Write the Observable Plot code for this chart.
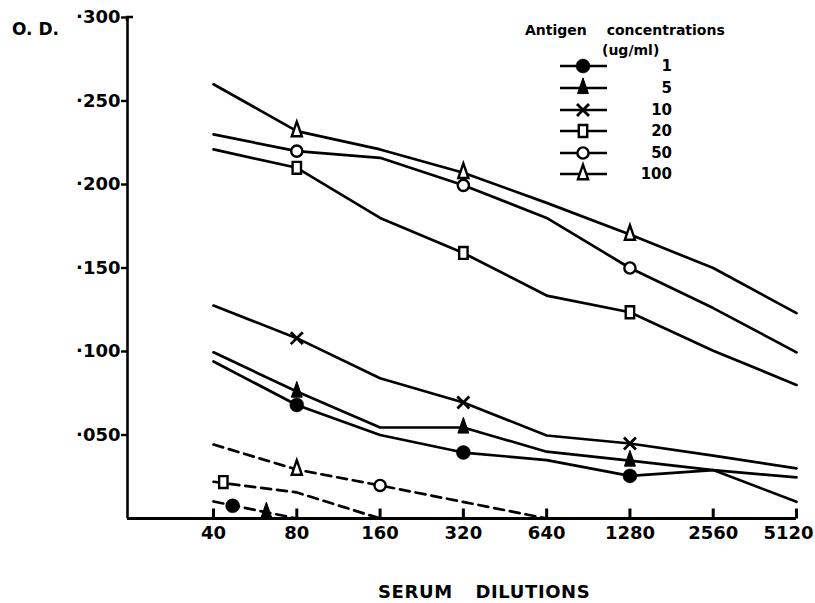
<!DOCTYPE html>
<html><head><meta charset="utf-8">
<script src="https://cdn.jsdelivr.net/npm/d3@7"></script>
<script src="https://cdn.jsdelivr.net/npm/@observablehq/plot@0.6"></script>
<style>
body{margin:0;background:#fff;}
#wrap{position:relative;width:815px;height:603px;font-family:"DejaVu Sans",sans-serif;font-weight:bold;color:#000;}
.t{position:absolute;white-space:pre;line-height:1;font-weight:bold;}
#legend{position:absolute;left:0;top:0;}
</style></head><body>
<div id="wrap"></div>
<script>
// ---------- data ----------
const dilutions = [40, 80, 160, 320, 640, 1280, 2560, 5120];
const xTickLabels = ["40", "80", "160", "320", "640", "1280", "2560", "5120"];
const concentrations = ["1", "5", "10", "20", "50", "100"];
const od_1   = [0.094, 0.068, 0.050, 0.0395, 0.035, 0.0255, 0.029, 0.010];
const od_5   = [0.0995, 0.076, 0.0545, 0.0545, 0.040, 0.0347, 0.029, 0.0246];
const od_10  = [0.1275, 0.108, 0.084, 0.0695, 0.0497, 0.0449, 0.0377, 0.030];
const od_20  = [0.221, 0.210, 0.180, 0.159, 0.1335, 0.1235, 0.1005, 0.080];
const od_50  = [0.230, 0.220, 0.216, 0.1995, 0.180, 0.150, 0.126, 0.0995];
const od_100 = [0.260, 0.232, 0.221, 0.207, 0.189, 0.170, 0.150, 0.123];
const markedDilutions = [80, 320, 1280];

// dashed curves
const dashA_x = [40, 80, 160, 640];
const dashA_y = [0.0443, 0.0293, 0.0198, 0];
const dashB_x = [40, 80, 160];
const dashB_y = [0.022, 0.0156, 0];
const dashC_x = [40, 80];
const dashC_y = [0.0102, 0];
const dashMark_x = [80, 160, 43.4, 46.9, 62.1];
const dashMark_y = [0.0293, 0.0198, 0.0218, 0.0076, 0.0037];
const dashMark_conc = ["100", "50", "20", "1", "5"];

const yTicks = [0.05, 0.1, 0.15, 0.2, 0.25, 0.3];
const yTickLabels = ["·050", "·100", "·150", "·200", "·250", "·300"];

// ---------- build tables ----------
const seriesValues = {"1": od_1, "5": od_5, "10": od_10, "20": od_20, "50": od_50, "100": od_100};
const rows = concentrations.flatMap(c => dilutions.map((x, i) => ({conc: c, x, y: seriesValues[c][i]})));
const markRows = rows.filter(r => markedDilutions.includes(r.x));
const dashRows = [
  ...dashA_x.map((x, i) => ({curve: "A", x, y: dashA_y[i]})),
  ...dashB_x.map((x, i) => ({curve: "B", x, y: dashB_y[i]})),
  ...dashC_x.map((x, i) => ({curve: "C", x, y: dashC_y[i]}))
];
const dashMarkRows = dashMark_x.map((x, i) => ({conc: dashMark_conc[i], x, y: dashMark_y[i]}));
const allMarkers = markRows.concat(dashMarkRows);

// ---------- symbols ----------
const tallTriangle = {draw(ctx, size) {
  const r = Math.sqrt(size / Math.PI);
  const w = r * 0.78, top = r * 1.45, bot = r * 0.8;
  ctx.moveTo(0, -top); ctx.lineTo(w, bot); ctx.lineTo(-w, bot); ctx.closePath();
}};
const tallSquare = {draw(ctx, size) {
  const r = Math.sqrt(size / Math.PI);
  const w = r * 0.6, h = r * 0.85;
  ctx.moveTo(-w, -h); ctx.lineTo(w, -h); ctx.lineTo(w, h); ctx.lineTo(-w, h); ctx.closePath();
}};
const markerStyle = {
  "1":   {symbol: "circle", r: 7, fill: "black", stroke: "black", strokeWidth: 0.5},
  "5":   {symbol: tallTriangle, r: 7, fill: "black", stroke: "black", strokeWidth: 1},
  "10":  {symbol: "times", r: 5.5, fill: "none", stroke: "black", strokeWidth: 2.8},
  "20":  {symbol: tallSquare, r: 7, fill: "white", stroke: "black", strokeWidth: 2.4},
  "50":  {symbol: "circle", r: 5.6, fill: "white", stroke: "black", strokeWidth: 2.4},
  "100": {symbol: tallTriangle, r: 6.5, fill: "white", stroke: "black", strokeWidth: 2.4}
};

// ---------- plot ----------
const W = 815, H = 603, mL = 127, mR = 19, mT = 17, mB = 85;
const xDomain = [19.55, 5120];
const yDomain = [0, 0.3];
const tickLen = (yDomain[1] - yDomain[0]) * 10 / (H - mT - mB); // 10 px expressed in data units
const font = '"DejaVu Sans", sans-serif';
const lastTick = dilutions[dilutions.length - 1];
const plot = Plot.plot({
  width: W, height: H,
  marginLeft: mL, marginRight: mR, marginTop: mT, marginBottom: mB,
  x: {type: "log", base: 2, domain: xDomain},
  y: {domain: yDomain},
  style: {fontFamily: font, fontWeight: "bold", fontSize: "18px", color: "black", background: "white"},
  marks: [
    Plot.axisY({ticks: yTicks, tickFormat: d => yTickLabels[yTicks.indexOf(d)], tickSize: 6, tickPadding: 1, strokeWidth: 2.4, label: null, fontSize: 18}),
    // x tick labels (the last one nudged in so it stays inside the page)
    Plot.axisX({ticks: dilutions.slice(0, -1), tickFormat: d => xTickLabels[dilutions.indexOf(d)], tickSize: 0, tickPadding: 8, label: null, fontSize: 18}),
    Plot.axisX({ticks: [lastTick], tickFormat: d => xTickLabels[dilutions.indexOf(d)], tickSize: 0, tickPadding: 8, dx: -8, label: null, fontSize: 18}),
    // upward x ticks
    Plot.link(dilutions, {x1: d => d, x2: d => d, y1: () => yDomain[0], y2: () => yDomain[0] + tickLen, stroke: "black", strokeWidth: 3}),
    Plot.ruleY([0], {strokeWidth: 2.8}),
    Plot.ruleX([xDomain[0]], {strokeWidth: 2.6}),
    Plot.line(rows, {x: "x", y: "y", z: "conc", stroke: "black", strokeWidth: 2.7}),
    Plot.line(dashRows, {x: "x", y: "y", z: "curve", stroke: "black", strokeWidth: 2.7, strokeDasharray: "10,6"}),
    ...concentrations.map(c => Plot.dot(allMarkers.filter(d => d.conc === c), {x: "x", y: "y", ...markerStyle[c]}))
  ]
});

const wrap = document.getElementById("wrap");
wrap.appendChild(plot);

function addText(txt, left, top, size, extra) {
  const d = document.createElement("div");
  d.className = "t";
  d.textContent = txt;
  d.style.left = left + "px";
  d.style.top = top + "px";
  d.style.fontSize = size + "px";
  if (extra) Object.assign(d.style, extra);
  wrap.appendChild(d);
}
addText("O. D.", 12, 21, 17);
addText("SERUM DILUTIONS", 378, 583, 18, {wordSpacing: "16px", letterSpacing: "0.6px"});

// ---------- legend ----------
const svg = d3.select(wrap).append("svg").attr("id", "legend").attr("width", W).attr("height", H)
  .style("font-family", font).style("font-weight", "bold");
// small hook at the top of the y axis
svg.append("path").attr("d", `M${mL},${mT + 4}L${mL},${mT}L${mL + 6},${mT}`)
  .attr("fill", "none").attr("stroke", "black").attr("stroke-width", 2.4);

const legendRowsY = [66, 88, 110, 131, 153, 174];
svg.append("text").attr("x", 525).attr("y", 30 + 0.35 * 14).attr("font-size", 14).attr("word-spacing", 15).text("Antigen concentrations");
svg.append("text").attr("x", 602).attr("y", 50 + 0.35 * 14).attr("font-size", 14).text("(ug/ml)");
const d3sym = s => s === "circle" ? d3.symbolCircle : s === "times" ? d3.symbolTimes : s;
concentrations.forEach((c, i) => {
  const y = legendRowsY[i];
  const st = markerStyle[c];
  svg.append("line").attr("x1", 560).attr("x2", 607).attr("y1", y).attr("y2", y).attr("stroke", "black").attr("stroke-width", 2.7);
  svg.append("path").attr("transform", `translate(583,${y})`)
    .attr("d", d3.symbol(d3sym(st.symbol), st.r * st.r * Math.PI)())
    .attr("fill", st.fill).attr("stroke", st.stroke).attr("stroke-width", st.strokeWidth);
  svg.append("text").attr("x", 672).attr("y", y + 0.36 * 15).attr("font-size", 15).attr("text-anchor", "end").text(c);
});
</script>
</body></html>
